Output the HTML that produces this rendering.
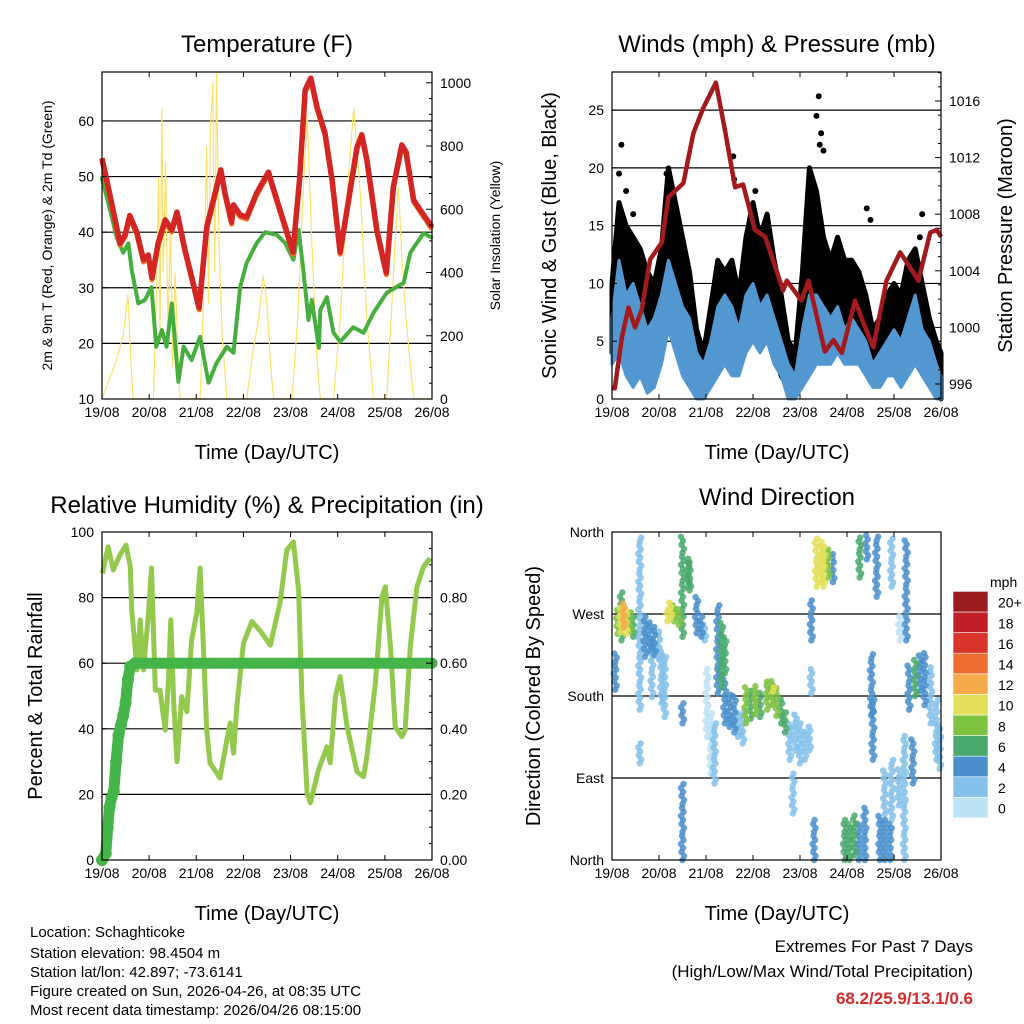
<!DOCTYPE html>
<html><head><meta charset="utf-8"><style>
html,body{margin:0;padding:0;background:#fff}
svg{display:block;font-family:"Liberation Sans",sans-serif}
</style></head><body>
<svg id="s" width="1024" height="1024" viewBox="0 0 1024 1024" xmlns="http://www.w3.org/2000/svg">
<rect width="1024" height="1024" fill="#fff"/>
<g id="g1"></g>
<g id="g2"></g>
<g id="g3"></g>
<g id="g4"></g>
<g id="cb"></g>
<g font-size="15" fill="#000">
<text x="30" y="937">Location: Schaghticoke</text>
<text x="30" y="958">Station elevation: 98.4504 m</text>
<text x="30" y="977">Station lat/lon: 42.897; -73.6141</text>
<text x="30" y="996">Figure created on Sun, 2026-04-26, at 08:35 UTC</text>
<text x="30" y="1015">Most recent data timestamp: 2026/04/26 08:15:00</text>
</g>
<g text-anchor="end" font-size="17">
<text x="973" y="952">Extremes For Past 7 Days</text>
<text x="973" y="977">(High/Low/Max Wind/Total Precipitation)</text>
<text x="973" y="1004" font-weight="bold" fill="#d42a2a">68.2/25.9/13.1/0.6</text>
</g>
</svg>
<script>
// ---------- data ----------
const dayLabels=["19/08","20/08","21/08","22/08","23/08","24/08","25/08","26/08"];
const tempDays=[0,.1,.28,.38,.49,.59,.74,.88,.98,1.06,1.19,1.34,1.48,1.59,1.76,1.9,2.06,2.22,2.4,2.52,2.61,2.75,2.79,2.93,3.07,3.28,3.53,3.71,3.89,4.05,4.19,4.31,4.43,4.56,4.73,4.88,5.05,5.23,5.41,5.51,5.62,5.83,6.03,6.18,6.36,6.45,6.61,6.75,6.93,7];
const tempVals=[53.3,49.4,42.2,38,39.5,43,39.9,35,35.9,31.8,38,42.2,40.4,43.6,36.8,32,26.4,40.9,47,51.2,47,41.8,44.9,43.1,42.7,47,50.8,45.8,40.9,36.4,49.4,65.6,67.7,62.5,57.8,49.4,36.4,45.8,55.3,57.5,53,40.4,32.7,48.1,55.7,54.4,45.8,44,41.8,40.9];
const tdDays=[0,.17,.31,.45,.56,.63,.77,.91,1.05,1.15,1.27,1.37,1.48,1.62,1.73,1.9,2.08,2.26,2.43,2.65,2.79,2.93,3.07,3.28,3.46,3.71,3.89,4.06,4.17,4.27,4.38,4.45,4.6,4.63,4.77,4.91,5.05,5.33,5.55,5.76,6.04,6.4,6.54,6.82,6.98];
const tdVals=[49.7,44,39.1,36.3,38,33.2,27.2,27.8,30.1,19.4,22.4,19.4,27.2,13.1,19.4,17,21.2,12.9,16.5,19.4,18.3,30.1,34.5,38,40,39.5,38,35,40.4,33.2,24.2,27.8,19.2,26,28.3,21.9,20.3,22.9,21.9,25.5,29.1,30.9,36.3,39.8,39.1];
const solarDays=[0,.1,.3,.45,.55,.62,.66,1.09,1.15,1.2,1.23,1.27,1.3,1.35,1.4,1.45,1.5,1.55,1.62,1.66,2.08,2.15,2.22,2.26,2.3,2.35,2.39,2.43,2.48,2.55,2.65,3.07,3.2,3.32,3.42,3.5,3.58,3.64,4.03,4.15,4.25,4.35,4.45,4.55,4.63,4.91,5.05,5.2,5.34,5.48,5.62,5.76,6.04,6.15,6.22,6.29,6.36,6.45,6.61,7];
const solarVals=[0,40,120,200,330,100,0,0,300,700,200,920,400,750,200,550,100,400,100,0,0,300,800,300,850,1000,400,1030,500,200,0,0,150,250,390,300,100,0,0,250,600,900,500,150,0,0,250,650,920,650,250,0,0,300,500,670,450,250,0,0];
const pDays=[0,.06,.21,.35,.49,.63,.81,1.06,1.2,1.52,1.73,1.94,2.21,2.4,2.62,2.79,3.04,3.26,3.64,3.72,4.03,4.18,4.53,4.71,4.89,5.17,5.35,5.56,5.84,6.13,6.27,6.52,6.77,6.91,7];
const pVals=[995.7,995.7,999.3,1001.4,1000,1001.2,1004.8,1006,1009.2,1010.2,1013.7,1015.5,1017.3,1014,1009.9,1010.1,1006.9,1006.4,1002.6,1003.3,1001.9,1003.3,998.3,999.1,998.2,1001.9,1000.3,998.6,1003.3,1005.3,1004.6,1003.3,1006.7,1006.9,1006.4];
const wDays=[0,.15,.3,.45,.6,.75,.9,1.05,1.2,1.35,1.5,1.65,1.8,1.95,2.1,2.25,2.4,2.55,2.7,2.85,3,3.15,3.3,3.45,3.6,3.75,3.9,4.05,4.2,4.35,4.5,4.65,4.8,4.95,5.1,5.25,5.4,5.55,5.7,5.85,6,6.15,6.3,6.45,6.6,6.75,6.9,7];
const windHi=[7,12,9,10,8,6,7,9,12,10,8,7,4,3,5,8,9,8,6,9,10,8,9,7,5,3,2,6,9,9,8,7,8,6,7,6,5,3,4,5,6,5,7,9,6,5,3,2];
const windLo=[3,4,2,1,2,.5,1,3,6,4,2,1,0,0,1,2,3,2,2,4,5,4,5,3,2,0,0,1,2,3,3,3,4,3,3,3,2,1,1,2,2,1,2,3,2,1,0,0];
const gustHi=[10,17,15,14,13,11,10,13,20,17,14,11,6,4,8,12,11,12,9,14,17,14,16,12,9,5,4,11,20,18,14,12,14,12,12,11,9,6,7,9,10,9,12,13,10,7,5,4];
const gustLo=[4,7,5,5,3,2,3,6,9,6,4,3,1,1,2,4,5,4,3,6,8,6,6,4,2,1,1,3,8,7,5,5,6,5,5,4,3,2,2,3,3,3,4,5,3,2,1,0];
const gustOutDays=[.2,.15,.3,.45,1.16,1.2,1.3,2.58,2.6,3.05,4.35,4.4,4.45,4.5,4.42,5.5,5.42,6.55,6.6,0.05];
const gustOutVals=[22,19.5,18,16,19.5,18,17,21,19,18,24.5,26.2,23,21.5,22,15.5,16.5,14,16,13];
const rhDays=[.01,.13,.24,.38,.51,.6,.63,.67,.74,.81,.88,.98,1.05,1.13,1.23,1.34,1.41,1.46,1.52,1.59,1.69,1.8,1.9,2.01,2.08,2.15,2.22,2.29,2.5,2.65,2.72,2.79,2.86,3,3.18,3.35,3.57,3.78,3.92,4.06,4.17,4.24,4.35,4.42,4.59,4.77,4.84,4.95,5.05,5.2,5.41,5.55,5.62,5.8,5.94,6.01,6.12,6.22,6.36,6.43,6.54,6.68,6.82,6.96];
const rhVals=[87.4,95.5,88.4,93,96,89.4,76.2,70,58,73.2,58,74.2,89,51.8,51.8,39.6,54.9,73.2,47.9,30,49.8,45.2,67,75.3,89,65,39.6,29.6,25,36.6,41.8,32.6,46.7,66,72.7,70,65.5,78.7,94.5,97,82.3,49.8,20.4,17.4,27.4,34.5,29.6,49.8,55.9,40.6,26.9,25.4,31.5,54,80.3,83.3,65,40.6,37.6,39.6,65,83.3,89.4,92];
const rainDays=[0,.08,.12,.16,.2,.25,.3,.35,.4,.45,.5,.55,.6,.7,1,2,3,4,5,6,7];
const rainVals=[0,.02,.1,.16,.19,.21,.3,.38,.41,.44,.48,.55,.59,.6,.6,.6,.6,.6,.6,.6,.6];
// wind direction streaks: day, direction low, direction high, speed
const dirDay=[.07,.12,.18,.25,.3,.38,.45,.2,.59,.59,.7,.8,.9,1,.85,1.05,1.12,1.18,1.25,1.32,1.42,1.5,1.5,1.5,1.65,1.62,1.8,1.9,1.97,2.02,2.1,2.18,2.25,2.33,2.4,2.4,2.5,2.6,2.68,2.78,2.85,2.95,3.05,3.15,3.3,3.4,3.5,3.6,3.68,3.42,3.78,3.9,4,4.1,4.2,3.85,4.24,4.24,4.35,4.45,4.5,4.6,4.7,4.3,4.95,5.05,5.15,5.25,5.38,5.27,5.42,5.52,5.55,5.63,5.7,5.8,5.92,5.8,5.95,6.1,5.95,6.12,6.22,6.26,6.32,6.45,6.55,6.65,6.78,6.4,6.9,6.97];
const dirLo=[187,248,250,255,248,250,245,241,165,106,223,230,225,220,179,172,157,262,265,262,258,245,150,0,296,300,249,245,241,135,95,84,183,190,205,150,146,140,135,128,150,155,160,157,165,170,158,150,140,185,110,120,106,110,120,51,241,183,300,305,300,310,305,0,0,0,5,0,0,310,330,160,110,289,0,0,0,50,44,60,300,241,0,241,165,180,185,170,150,84,110,100];
const dirHi=[227,277,278,282,275,272,268,296,355,128,267,262,260,255,241,230,223,278,285,282,276,355,172,84,329,335,289,271,260,212,165,150,282,262,245,200,183,180,165,165,190,187,194,185,198,200,190,180,165,192,150,160,150,143,150,95,289,212,355,350,345,345,340,44,44,40,50,40,60,355,358,230,180,358,50,45,40,100,110,100,355,270,140,355,215,220,225,230,215,135,180,150];
const dirSpd=[4,8,10,12,9,8,6,5,2,2,4,4,4,2,2,2,1,10,9,8,8,6,3,4,6,6,4,4,2,0,0,1,4,6,5,4,4,4,2,2,7,6,7,6,8,8,7,6,6,10,2,1,2,1,2,2,3,2,9,10,9,8,4,4,6,6,5,4,4,5,4,4,4,3,4,4,3,2,2,2,1,0,1,3,4,5,4,4,2,4,1,2];
const cbLabels=["0","2","4","6","8","10","12","14","16","18","20+"];
const cbColors=["#bde3f6","#85c1ea","#4a8fcb","#4aa96c","#7ec242","#e4df58","#f6aa4a","#ee6b32","#d9352c","#c01f27","#9b1c1f"];

// ---------- helpers ----------
const NS="http://www.w3.org/2000/svg";
function el(parent,tag,attrs){const e=document.createElementNS(NS,tag);for(const k in attrs)e.setAttribute(k,attrs[k]);parent.appendChild(e);return e;}
function txt(parent,x,y,s,attrs){const e=el(parent,"text",Object.assign({x:x,y:y},attrs||{}));e.textContent=s;return e;}
function lin(d0,d1,r0,r1){return v=>r0+(v-d0)/(d1-d0)*(r1-r0);}
function poly(xs,ys,fx,fy){return xs.map((d,i)=>fx(d).toFixed(1)+","+fy(ys[i]).toFixed(1)).join(" ");}

function frame(g,L,T,R,B,yTicks,fy,yLab,grid,rTicks,fyR,rLab,rMinor,fx){
  grid.forEach(v=>{const l=el(g,"line",{x1:L,x2:R,y1:fy(v),y2:fy(v),stroke:"#000","stroke-width":1.2});
    
    });
  return function(){
    const f=el(g,"rect",{x:L,y:T,width:R-L,height:B-T,fill:"none",stroke:"#000","stroke-width":1.2});
    
    
    dayLabels.forEach((s,i)=>{const x=fx(i);
      el(g,"line",{x1:x,x2:x,y1:B,y2:B-5,stroke:"#000"});el(g,"line",{x1:x,x2:x,y1:T,y2:T+5,stroke:"#000"});
      const t=txt(g,x,B+18,s,{"font-size":14,"text-anchor":"middle"});
      
      });
    yTicks.forEach((v,i)=>{const y=fy(v);el(g,"line",{x1:L,x2:L+5,y1:y,y2:y,stroke:"#000"});
      const t=txt(g,L-8,y+5,yLab[i],{"font-size":14,"text-anchor":"end"});
      
      });
    if(rTicks){rMinor.forEach(v=>{const y=fyR(v);el(g,"line",{x1:R,x2:R-3,y1:y,y2:y,stroke:"#000"});});
      rTicks.forEach((v,i)=>{const y=fyR(v);el(g,"line",{x1:R,x2:R-6,y1:y,y2:y,stroke:"#000"});
      const t=txt(g,R+8,y+5,rLab[i],{"font-size":14});
      
      });}
  };
}
function titles(g,cx,title,xl,yl,ylx,ylSize,rl,rlx,rlSize,T,B){
  const t=txt(g,cx,52,title,{"font-size":24,"text-anchor":"middle"});
  
  
  const a=txt(g,cx,B+60,xl,{"font-size":20,"text-anchor":"middle"});
  
  
  const cy=(T+B)/2;
  const b=txt(g,ylx,cy,yl,{"font-size":ylSize,"text-anchor":"middle",transform:"rotate(-90 "+ylx+" "+cy+")"});
  
  
  if(rl){const c=txt(g,rlx,cy,rl,{"font-size":rlSize,"text-anchor":"middle",transform:"rotate(-90 "+rlx+" "+cy+")"});
  
  }
  return [t,a];
}

// ---------- panel 1: temperature ----------
(function(){
  const g=document.getElementById("g1");const L=102,R=432,T=72,B=399;
  const fx=lin(0,7,L,R),fy=lin(10,68.8,B,T),fs=lin(0,1034,B,T);
  const fin=frame(g,L,T,R,B,[10,20,30,40,50,60],fy,["10","20","30","40","50","60"],[20,30,40,50,60],[0,200,400,600,800,1000],fs,["0","200","400","600","800","1000"],[50,100,150,250,300,350,450,500,550,650,700,750,850,900,950],fx);
  const s=el(g,"polyline",{points:poly(solarDays,solarVals,fx,fs),fill:"none",stroke:"#fde26a","stroke-width":1.2});
  
  
  const td=el(g,"polyline",{points:poly(tdDays,tdVals,fx,fy),fill:"none",stroke:"#46ae3e","stroke-width":4,"stroke-dasharray":"3.5 0.8","stroke-linecap":"round","stroke-linejoin":"round"});
  
  
  const o=el(g,"polyline",{points:poly(tempDays,tempVals,fx,v=>fy(v)+2),fill:"none",stroke:"#f07a28","stroke-width":5,"stroke-linejoin":"round"});
  
  
  const r=el(g,"polyline",{points:poly(tempDays,tempVals,fx,fy),fill:"none",stroke:"#d42525","stroke-width":5.5,"stroke-linejoin":"round"});
  
  
  fin();
  titles(g,267,"Temperature (F)","Time (Day/UTC)","2m & 9m T (Red, Orange) & 2m Td (Green)",52,14,"Solar Insolation (Yellow)",500,14,T,B);
})();

// ---------- panel 2: winds ----------
(function(){
  const g=document.getElementById("g2");const L=612,R=941,T=72,B=399;
  const fx=lin(0,7,L,R),fy=lin(0,28.3,B,T),fp=lin(996,1016,384,101);
  const minor=[];for(let p=995;p<=1018;p++)if(p%4)minor.push(p);
  const fin=frame(g,L,T,R,B,[0,5,10,15,20,25],fy,["0","5","10","15","20","25"],[5,10,15,20,25],[996,1000,1004,1008,1012,1016],fp,["996","1000","1004","1008","1012","1016"],minor,fx);
  const band=(hi,lo)=>poly(wDays,hi,fx,fy)+" "+poly(wDays.slice().reverse(),lo.slice().reverse(),fx,fy);
  const gb=el(g,"polygon",{points:band(gustHi,gustLo),fill:"#000",stroke:"#000","stroke-width":5,"stroke-linejoin":"round"});
  
  
  gustOutDays.forEach((d,i)=>{const c=el(g,"circle",{cx:fx(d),cy:fy(gustOutVals[i]),r:3,fill:"#000"});
    
    });
  const wb=el(g,"polygon",{points:band(windHi,windLo),fill:"#5397d0",stroke:"#5397d0","stroke-width":3,"stroke-linejoin":"round"});
  
  
  const p=el(g,"polyline",{points:poly(pDays,pVals,fx,fp),fill:"none",stroke:"#a31a1e","stroke-width":4.5,"stroke-linejoin":"round"});
  
  
  fin();
  titles(g,777,"Winds (mph) & Pressure (mb)","Time (Day/UTC)","Sonic Wind & Gust (Blue, Black)",556,20,"Station Pressure (Maroon)",1012,20,T,B);
})();

// ---------- panel 3: humidity ----------
(function(){
  const g=document.getElementById("g3");const L=102,R=432,T=532,B=860;
  const fx=lin(0,7,L,R),fy=lin(0,100,B,T),fr=lin(0,1,B,T);
  const minor=[];for(let i=0;i<=20;i++)if(i%4)minor.push(i*0.05);
  const fin=frame(g,L,T,R,B,[0,20,40,60,80,100],fy,["0","20","40","60","80","100"],[20,40,60,80],[0,.2,.4,.6,.8],fr,["0.00","0.20","0.40","0.60","0.80"],minor,fx);
  const h=el(g,"polyline",{points:poly(rhDays,rhVals,fx,fy),fill:"none",stroke:"#93c94d","stroke-width":5,"stroke-linejoin":"round"});
  
  
  const rl=el(g,"polyline",{points:poly(rainDays,rainVals,fx,fr),fill:"none",stroke:"#46b549","stroke-width":11,"stroke-linejoin":"round","stroke-linecap":"round"});
  
  
  rainDays.forEach((d,i)=>{if(d<=0.7){const c=el(g,"circle",{cx:fx(d),cy:fr(rainVals[i]),r:6,fill:"#46b549"});
    
    }});
  fin();
  titles(g,267,"Relative Humidity (%) & Precipitation (in)","Time (Day/UTC)","Percent & Total Rainfall",42,20,null,0,0,T,B)[0].setAttribute("y",513);
})();

// ---------- panel 4: wind direction ----------
(function(){
  const g=document.getElementById("g4");const L=612,R=941,T=532,B=860;
  const fx=lin(0,7,L,R),fy=lin(0,360,B,T);
  const fin=frame(g,L,T,R,B,[0,90,180,270,360],fy,["North","East","South","West","North"],[90,180,270],null,null,null,null,fx);
  const idx=dirDay.map((d,i)=>i).sort((a,b)=>dirSpd[a]-dirSpd[b]);
  const jit=[0,1.5,-1,0.5,-1.5,1,-0.5];
  idx.forEach(i=>{const col=cbColors[Math.min(10,Math.round(dirSpd[i]/2))];
    const y0=fy(dirLo[i]),y1=fy(dirHi[i]);const x=fx(dirDay[i]);let k=0;
    for(let y=y0;y>=y1-0.1;y-=4){const c=el(g,"circle",{cx:x+jit[k%7],cy:y,r:3.2,fill:col,opacity:0.85});k++;
      
      }
  });
  fin();
  titles(g,777,"Wind Direction","Time (Day/UTC)","Direction (Colored By Speed)",540,20,null,0,0,T,B)[0].setAttribute("y",505);
})();

// ---------- colorbar ----------
(function(){
  const g=document.getElementById("cb");const x=953,w=35,bot=818,h=20.6;
  cbLabels.forEach((s,i)=>{const y=bot-(i+1)*h;
    const r=el(g,"rect",{x:x,y:y,width:w,height:h,fill:cbColors[i],stroke:"#fff","stroke-width":0.6});
    
    
    const t=txt(g,998,y+h/2+6,s,{"font-size":14});
    
    });
  const m=txt(g,990,587,"mph",{"font-size":14});
  
  
})();
</script>
</body></html>
